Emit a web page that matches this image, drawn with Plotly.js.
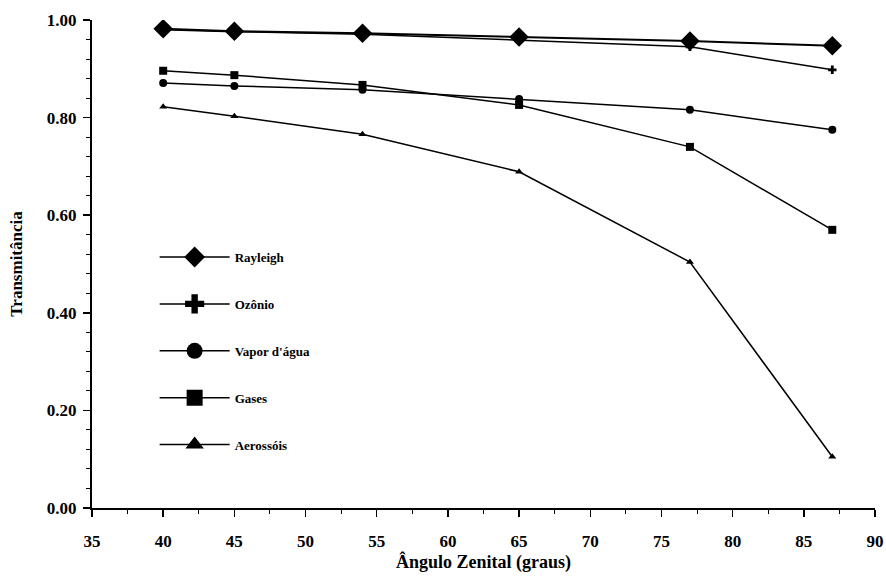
<!DOCTYPE html>
<html>
<head>
<meta charset="utf-8">
<script src="https://cdn.plot.ly/plotly-3.0.1.min.js"></script>
<style>html,body{margin:0;padding:0;background:#fff;}#chart{width:886px;height:579px;}</style>
</head>
<body>
<div id="chart"></div>
<script>
const angulo = [40, 45, 54, 65, 77, 87];
const rayleigh = [0.982, 0.977, 0.973, 0.965, 0.957, 0.947];
const ozonio = [0.980, 0.976, 0.971, 0.959, 0.945, 0.898];
const vapor = [0.871, 0.865, 0.857, 0.838, 0.816, 0.775];
const gases = [0.896, 0.887, 0.867, 0.826, 0.740, 0.570];
const aerossois = [0.822, 0.803, 0.766, 0.689, 0.504, 0.105];
const nomes = ['Rayleigh', 'Ozônio', "Vapor d'água", 'Gases', 'Aerossóis'];
const series = [rayleigh, ozonio, vapor, gases, aerossois];
const simbolos = ['diamond', 'cross', 'circle', 'square', 'triangle-up'];
const tamanhos = [15, 7, 8, 8, 7];
const larguras = [2, 1.5, 1.5, 1.5, 1.5];

const fontFam = '"Liberation Serif", "Times New Roman", serif';
const traces = [];
series.forEach((s, i) => {
  traces.push({
    x: angulo, y: s, type: 'scatter', mode: 'lines+markers',
    name: nomes[i], showlegend: false,
    line: {color: '#000', width: larguras[i]},
    marker: {symbol: simbolos[i], size: tamanhos[i], color: '#000'}
  });
});
series.forEach((s, i) => {
  traces.push({
    x: [null], y: [null], type: 'scatter', mode: 'lines+markers',
    name: nomes[i], legendgroup: 'g' + i, showlegend: true,
    line: {color: '#000', width: 1.5},
    marker: {symbol: simbolos[i], size: 16, color: '#000'}
  });
});

const layout = {
  width: 886, height: 579,
  margin: {l: 92, r: 11, t: 20, b: 71},
  paper_bgcolor: '#fff', plot_bgcolor: '#fff',
  font: {family: fontFam, color: '#000', size: 13, weight: 'bold'},
  showlegend: true,
  legend: {
    x: 0.08, y: 0.545, xanchor: 'left', yanchor: 'top',
    bgcolor: 'rgba(0,0,0,0)', itemwidth: 70, tracegroupgap: 27,
    font: {family: fontFam, size: 13, weight: 'bold', color: '#000'}
  },
  xaxis: {
    range: [35, 90], dtick: 5, tick0: 35,
    showline: true, linecolor: '#000', linewidth: 2,
    ticks: 'outside', ticklen: 7, tickwidth: 1.5, tickcolor: '#000',
    ticklabelstandoff: 10,
    minor: {dtick: 2.5, ticks: 'outside', ticklen: 4, tickcolor: '#000', tickwidth: 1},
    showgrid: false, zeroline: false,
    tickfont: {family: fontFam, size: 17, weight: 'bold'},
    title: {text: 'Ângulo Zenital (graus)', standoff: 5, font: {family: fontFam, size: 18, weight: 'bold'}}
  },
  yaxis: {
    range: [0, 1.0], dtick: 0.2, tickformat: '.2f',
    showline: true, linecolor: '#000', linewidth: 2,
    ticks: 'outside', ticklen: 7, tickwidth: 1.5, tickcolor: '#000',
    ticklabelstandoff: 3,
    minor: {dtick: 0.04, ticks: 'outside', ticklen: 4, tickcolor: '#000', tickwidth: 1},
    showgrid: false, zeroline: false,
    tickfont: {family: fontFam, size: 17, weight: 'bold'},
    title: {text: 'Transmitância', standoff: 20, font: {family: fontFam, size: 17, weight: 'bold'}}
  }
};
Plotly.newPlot('chart', traces, layout, {displayModeBar: false, staticPlot: true});
</script>
</body>
</html>
